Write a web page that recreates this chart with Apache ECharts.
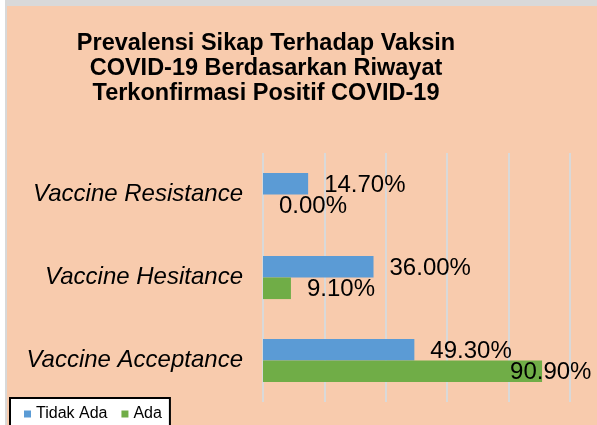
<!DOCTYPE html>
<html>
<head>
<meta charset="utf-8">
<script src="https://cdn.jsdelivr.net/npm/echarts@6/dist/echarts.min.js"></script>
<style>
    html, body { margin: 0; padding: 0; background: #fff; }
    #frame { position: absolute; left: 5px; top: 0; width: 592px; height: 425px; background: #d9d9d9; }
    #chartBox { position: absolute; left: 7px; top: 6px; width: 590px; height: 419px; background: #f8cbad; }
</style>
</head>
<body>
<div id="frame"></div>
<div id="chartBox"></div>
<script>
    var categories = ['Vaccine Resistance', 'Vaccine Hesitance', 'Vaccine Acceptance'];
    var tidakAda = [14.7, 36.0, 49.3];
    var ada = [0.0, 9.1, 90.9];
    var xMin = 0, xMax = 100, xStep = 20;

    var chart = echarts.init(document.getElementById('chartBox'));

    // 90.90% label sits pulled back onto the bar, like the original
    var adaData = ada.map(function (v, i) {
        if (v > 80) {
            return { value: v, label: { offset: [-48, 1] } };
        }
        return v;
    });

    var fmt = function (p) {
        return p.value.toFixed(2) + '%';
    };

    var option = {
        animation: false,
        color: ['#5b9bd5', '#70ad47'],
        textStyle: { fontFamily: 'Liberation Sans, Arial, sans-serif' },
        title: {
            text: 'Prevalensi Sikap Terhadap Vaksin\nCOVID-19 Berdasarkan Riwayat\nTerkonfirmasi Positif COVID-19',
            left: 254,
            top: 20,
            textAlign: 'center',
            textStyle: {
                fontSize: 23.5,
                fontWeight: 'bold',
                lineHeight: 25,
                color: '#000',
                fontFamily: 'Liberation Sans, Arial, sans-serif'
            }
        },
        legend: {
            data: ['Tidak Ada', 'Ada'],
            left: 3,
            top: 392,
            icon: 'rect',
            itemWidth: 7,
            itemHeight: 7,
            itemGap: 14,
            backgroundColor: '#fff',
            borderColor: '#000',
            borderWidth: 2,
            padding: [8, 8, 12, 14],
            textStyle: { fontSize: 16, color: '#000', fontFamily: 'Liberation Sans, Arial, sans-serif' }
        },
        grid: {
            left: 256,
            top: 147,
            width: 307,
            height: 249,
            containLabel: false
        },
        xAxis: {
            type: 'value',
            min: xMin,
            max: xMax,
            interval: xStep,
            axisLine: { show: false },
            axisTick: { show: false },
            axisLabel: { show: false },
            splitLine: { show: true, lineStyle: { color: '#d9d9d9', width: 2 } }
        },
        yAxis: {
            type: 'category',
            inverse: true,
            data: categories,
            axisLine: { show: false },
            axisTick: { show: false },
            axisLabel: {
                margin: 20,
                fontSize: 24,
                fontStyle: 'italic',
                color: '#000',
                fontFamily: 'Liberation Sans, Arial, sans-serif'
            }
        },
        series: [{
            name: 'Tidak Ada',
            type: 'bar',
            barGap: 0,
            barCategoryGap: '48%',
            data: tidakAda,
            label: {
                show: true,
                position: 'right',
                distance: 16,
                offset: [0, 2],
                fontSize: 24,
                color: '#000',
                formatter: fmt
            }
        }, {
            name: 'Ada',
            type: 'bar',
            barGap: 0,
            barCategoryGap: '48%',
            data: adaData,
            label: {
                show: true,
                position: 'right',
                distance: 16,
                offset: [0, 1],
                fontSize: 24,
                color: '#000',
                formatter: fmt
            }
        }]
    };

    chart.setOption(option);
</script>
</body>
</html>
